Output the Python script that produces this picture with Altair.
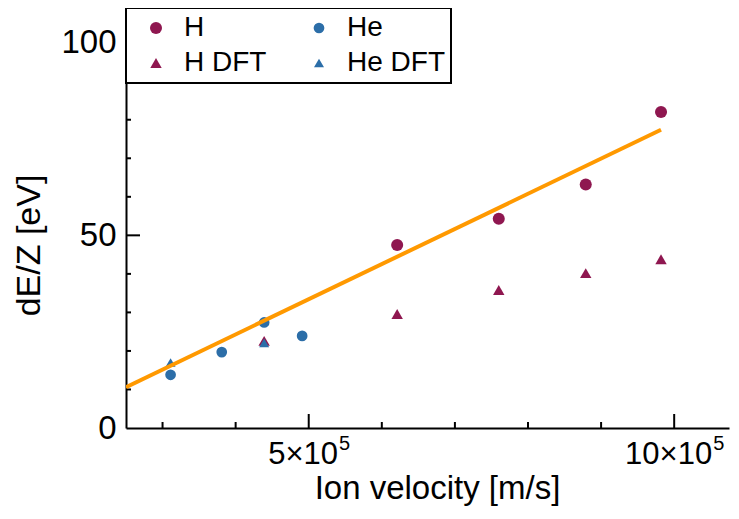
import altair as alt
import pandas as pd

# ---- data ----
series_names = ["H", "H DFT", "He", "He DFT"]
series_colors = ["#8f1750", "#8f1750", "#2c6ea8", "#2c6ea8"]
series_shapes = ["circle", "triangle-up", "circle", "triangle-up"]
series_sizes = [145, 100, 145, 100]

h_v = [6.21e5, 7.60e5, 8.79e5, 9.82e5]
h_de = [47.5, 54.3, 63.2, 82.0]
hdft_v = [4.39e5, 6.21e5, 7.60e5, 8.79e5, 9.82e5]
hdft_de = [22.6, 29.6, 35.8, 40.2, 43.8]
he_v = [3.11e5, 3.81e5, 4.39e5, 4.91e5]
he_de = [13.8, 19.7, 27.4, 23.9]
hedft_v = [3.11e5, 4.39e5]
hedft_de = [17.0, 22.1]

fit_v = [2.5e5, 9.82e5]
fit_de = [10.6, 77.4]

x_major = [5e5, 10e5]
x_major_labels = ["5×10", "10×10"]
x_label_exponent = ["5", "5"]
x_minor = [3e5, 4e5, 6e5, 7e5, 8e5, 9e5]
y_major = [0, 50, 100]
y_minor = [10, 20, 30, 40, 60, 70, 80, 90]

x_domain = [2.5e5, 10.75e5]
y_domain = [0, 109]

FONT = "Liberation Sans"
XL_SIZE = 31
EXP_SIZE = 20

# ---- tables ----
rows = []
for name, xs, ys in [("H", h_v, h_de), ("H DFT", hdft_v, hdft_de),
                     ("He", he_v, he_de), ("He DFT", hedft_v, hedft_de)]:
    for xv, yv in zip(xs, ys):
        rows.append({"v": xv, "dE": yv, "series": name})
pts = pd.DataFrame(rows)
pts["order"] = range(len(pts))
fit = pd.DataFrame({"v": fit_v, "dE": fit_de})

xscale = alt.Scale(domain=x_domain, nice=False, zero=False)
yscale = alt.Scale(domain=y_domain, nice=False, zero=False)

x_axis = alt.Axis(values=x_major, labels=False, ticks=False, grid=False,
                  domainColor="black", domainWidth=2,
                  title="Ion velocity [m/s]", titleFont=FONT,
                  titleFontSize=33, titleFontWeight="normal", titleColor="black",
                  titleX=311, titleY=70, titleBaseline="alphabetic", titleAlign="center")
y_axis = alt.Axis(values=y_major, ticks=False, grid=False, domainColor="black",
                  domainWidth=2, labelFont=FONT, labelFontSize=33, labelColor="black",
                  labelPadding=10, labelFlush=False, title="dE/Z [eV]", titleFont=FONT,
                  titleFontSize=34, titleFontWeight="normal", titleColor="black",
                  titleAngle=270, titleX=-87, titleY=237, titleBaseline="alphabetic",
                  titleAlign="center")

legend = alt.Legend(orient="none", legendX=0, legendY=0, columns=2, title=None,
                    fillColor="white", strokeColor="black", padding=6,
                    symbolOffset=10, labelOffset=14, columnPadding=28, rowPadding=7,
                    labelFont=FONT, labelFontSize=28, labelColor="black",
                    symbolStrokeWidth=0)

points = alt.Chart(pts).mark_point(filled=True, opacity=1).encode(
    x=alt.X("v:Q", scale=xscale, axis=x_axis),
    y=alt.Y("dE:Q", scale=yscale, axis=y_axis),
    color=alt.Color("series:N", scale=alt.Scale(domain=series_names, range=series_colors), legend=legend),
    shape=alt.Shape("series:N", scale=alt.Scale(domain=series_names, range=series_shapes), legend=legend),
    size=alt.Size("series:N", scale=alt.Scale(domain=series_names, range=series_sizes), legend=legend),
    order="order:Q",
)

line = alt.Chart(fit).mark_line(color="#ff9900", strokeWidth=4, clip=True).encode(
    x=alt.X("v:Q", scale=xscale, axis=x_axis),
    y=alt.Y("dE:Q", scale=yscale, axis=y_axis),
)

H = 420
ytick_major = alt.Chart(pd.DataFrame({"dE": y_major[1:]})).mark_rule(color="black", strokeWidth=2).encode(
    y=alt.Y("dE:Q", scale=yscale, axis=y_axis), x=alt.value(0), x2=alt.value(14))
ytick_minor = alt.Chart(pd.DataFrame({"dE": y_minor})).mark_rule(color="black", strokeWidth=2).encode(
    y=alt.Y("dE:Q", scale=yscale, axis=y_axis), x=alt.value(0), x2=alt.value(5))
xtick_major = alt.Chart(pd.DataFrame({"v": x_major})).mark_rule(color="black", strokeWidth=2).encode(
    x=alt.X("v:Q", scale=xscale, axis=x_axis), y=alt.value(H), y2=alt.value(H - 14))
xtick_minor = alt.Chart(pd.DataFrame({"v": x_minor})).mark_rule(color="black", strokeWidth=2).encode(
    x=alt.X("v:Q", scale=xscale, axis=x_axis), y=alt.value(H), y2=alt.value(H - 6))

# x tick labels "a×10" with a raised exponent, centred on each major tick
CHAR_W = {"×": 0.584}
def text_w(s, size):
    return sum(CHAR_W.get(c, 0.556) for c in s) * size

label_layers = []
for v, main, ex in zip(x_major, x_major_labels, x_label_exponent):
    mw = text_w(main, XL_SIZE)
    ew = text_w(ex, EXP_SIZE)
    d = pd.DataFrame({"v": [v], "main": [main], "exp": [ex]})
    label_layers.append(
        alt.Chart(d).mark_text(font=FONT, fontSize=XL_SIZE, color="black", align="center",
                               baseline="alphabetic", dx=-ew / 2, dy=36).encode(
            x=alt.X("v:Q", scale=xscale, axis=x_axis), y=alt.value(H), text="main:N"))
    label_layers.append(
        alt.Chart(d).mark_text(font=FONT, fontSize=EXP_SIZE, color="black", align="left",
                               baseline="alphabetic", dx=mw / 2 - ew / 2 + 1, dy=22).encode(
            x=alt.X("v:Q", scale=xscale, axis=x_axis), y=alt.value(H), text="exp:N"))

chart = alt.layer(points, ytick_major, ytick_minor, xtick_major, xtick_minor, line, *label_layers).properties(
    width=603, height=H,
    autosize=alt.AutoSizeParams(type="none"),
    padding={"left": 118, "top": 0, "right": 2, "bottom": 80},
).configure_view(stroke=None).configure_legend(strokeWidth=2)

chart.save("out.html", embed_options={"renderer": "svg", "actions": False})
